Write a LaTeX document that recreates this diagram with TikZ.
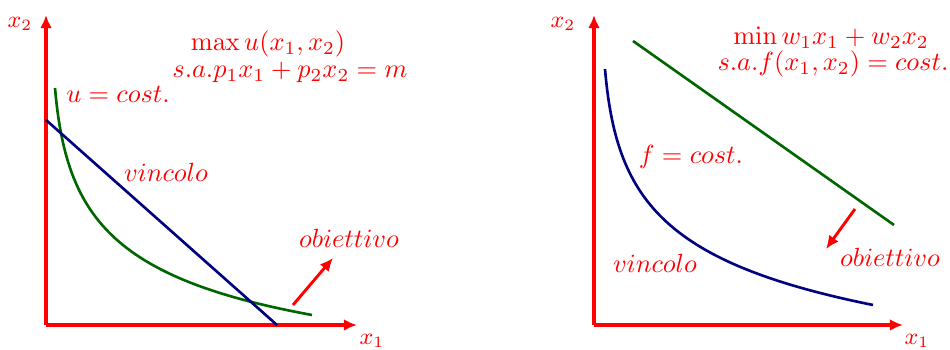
\documentclass[tikz,border=0pt]{standalone}
\usepackage{tikz}
\usetikzlibrary{arrows.meta, positioning}

\begin{document}
\begin{tikzpicture}[
    x=0.38pt, y=0.38pt,
    axis/.style={draw=red, line width=1.2pt, -{Latex[length=5pt,width=4.5pt]}},
    dir/.style={draw=red, line width=1.1pt, -{Latex[length=5pt,width=4.5pt]}},
    budget/.style={draw=blue!50!black, line width=1pt},
    level/.style={draw=green!40!black, line width=1pt},
    lbl/.style={text=red, inner sep=1pt},
    axlbl/.style={lbl, font=\small}
  ]
  \useasboundingbox (0,0) rectangle (950,350);

  % Left: utility maximisation
  \coordinate (oL) at (46,25);
  \coordinate (yL) at (46,335);
  \coordinate (xL) at (357,25);
  \draw[axis] (oL) -- (yL);
  \draw[axis] (oL) -- (xL);
  \node[axlbl] (x2L) at (20,326) {$x_2$};
  \node[axlbl] (x1L) at (372,9) {$x_1$};

  \coordinate (uA) at (55,262);
  \coordinate (uB) at (312,35);
  \draw[level] (uA) .. controls (66,135) and (110,72) .. (uB);
  \coordinate (bA) at (46,230);
  \coordinate (bB) at (277,25);
  \draw[budget] (bA) -- (bB);

  \coordinate (dA) at (293,45);
  \coordinate (dB) at (333,92);
  \draw[dir] (dA) -- (dB);

  \node[lbl] (maxL) at (268,306) {$\max u(x_1,x_2)$};
  \node[lbl] (saL) at (290,278) {$s.a.p_1x_1+p_2x_2=m$};
  \node[lbl] (uL) at (118,256) {$u=cost.$};
  \node[lbl] (vL) at (166,178) {$vincolo$};
  \node[lbl] (oBL) at (349,112) {$obiettivo$};

  % Right: cost minimisation
  \coordinate (oR) at (594,25);
  \coordinate (yR) at (594,335);
  \coordinate (xR) at (903,25);
  \draw[axis] (oR) -- (yR);
  \draw[axis] (oR) -- (xR);
  \node[axlbl] (x2R) at (563,326) {$x_2$};
  \node[axlbl] (x1R) at (917,9) {$x_1$};

  \coordinate (cA) at (633,309);
  \coordinate (cB) at (894,125);
  \draw[level] (cA) -- (cB);
  \coordinate (fA) at (605,281);
  \coordinate (fB) at (873,45);
  \draw[budget] (fA) .. controls (616,153) and (660,88) .. (fB);

  \coordinate (eA) at (855,141);
  \coordinate (eB) at (826,101);
  \draw[dir] (eA) -- (eB);

  \node[lbl] (minR) at (831,312) {$\min w_1x_1+w_2x_2$};
  \node[lbl] (saR) at (833,286) {$s.a.f(x_1,x_2)=cost.$};
  \node[lbl] (fR) at (691,193) {$f=cost.$};
  \node[lbl] (vR) at (655,87) {$vincolo$};
  \node[lbl] (oBR) at (890,93) {$obiettivo$};

\end{tikzpicture}
\end{document}
